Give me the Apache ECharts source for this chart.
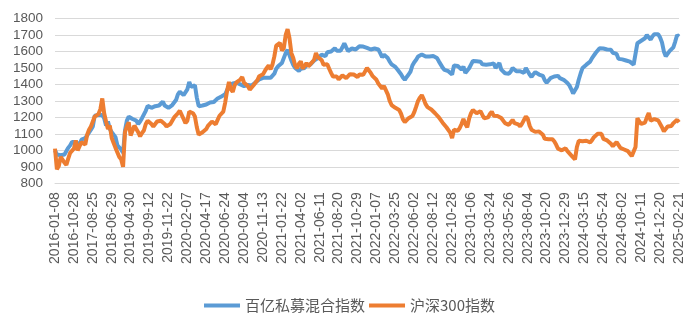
<!DOCTYPE html>
<html>
<head>
<meta charset="utf-8">
<script src="https://cdn.jsdelivr.net/npm/echarts@6/dist/echarts.min.js"></script>
<style>
html,body{margin:0;padding:0;background:#fff;}
#c{width:699px;height:328px;}
</style>
</head>
<body>
<div id="c"></div>
<script>
// Tick labels shown on the x axis (every 10th data point)
const tickLabels = [
  '2016-01-08','2016-10-28','2017-08-25','2018-06-29','2019-04-30','2019-09-12','2019-11-22',
  '2020-02-07','2020-04-17','2020-06-24','2020-09-04','2020-11-13','2021-01-22','2021-04-02',
  '2021-06-11','2021-08-20','2021-10-29','2022-01-07','2022-03-25','2022-06-02','2022-08-12',
  '2022-10-28','2023-01-06','2023-03-24','2023-05-26','2023-08-04','2023-10-20','2023-12-29',
  '2024-03-15','2024-05-24','2024-08-02','2024-10-11','2024-12-20','2025-02-21'
];

// 百亿私募混合指数
const privateIndex = [
  1000,975,980,970,975,975,980,1015,1030,1050,1055,1050,1045,1035,1065,1068,1075,1090,1100,1125,
  1145,1210,1215,1215,1205,1215,1195,1150,1175,1130,1110,1105,1080,1030,1040,1005,985,1120,1180,1205,
  1210,1190,1200,1180,1160,1175,1195,1205,1240,1270,1275,1258,1265,1268,1275,1272,1276,1295,1272,1262,
  1258,1260,1275,1290,1305,1340,1356,1348,1335,1345,1370,1415,1385,1378,1395,1320,1268,1270,1272,1275,
  1278,1282,1290,1292,1293,1305,1315,1318,1327,1335,1340,1365,1392,1400,1406,1408,1410,1402,1400,1393,
  1390,1392,1396,1394,1393,1402,1412,1420,1430,1438,1440,1442,1441,1438,1440,1445,1465,1495,1510,1520,
  1530,1540,1590,1610,1605,1545,1518,1500,1488,1482,1495,1492,1500,1518,1512,1520,1532,1545,1555,1560,
  1568,1580,1582,1572,1595,1605,1600,1610,1620,1605,1612,1605,1625,1650,1625,1602,1608,1618,1622,1612,
  1620,1632,1622,1630,1632,1622,1625,1612,1620,1618,1622,1612,1590,1565,1580,1582,1560,1538,1522,1510,
  1506,1492,1482,1462,1442,1428,1445,1460,1478,1515,1535,1550,1570,1580,1582,1578,1570,1572,1570,1566,
  1572,1575,1560,1540,1530,1502,1488,1478,1480,1470,1460,1515,1520,1512,1500,1490,1508,1470,1462,1498,
  1520,1542,1550,1540,1530,1538,1522,1510,1520,1528,1522,1515,1528,1500,1515,1530,1490,1480,1468,1475,
  1465,1478,1500,1490,1480,1490,1480,1488,1470,1500,1508,1460,1445,1462,1475,1468,1460,1455,1452,1425,
  1410,1422,1438,1440,1448,1458,1452,1438,1430,1428,1432,1408,1395,1372,1345,1335,1385,1430,1468,1500,
  1512,1520,1532,1538,1560,1572,1592,1600,1620,1615,1618,1615,1612,1620,1610,1592,1595,1585,1555,1550,
  1552,1548,1545,1540,1538,1528,1520,1585,1650,1662,1665,1672,1680,1700,1685,1672,1692,1705,1712,1705,
  1685,1655,1600,1570,1575,1602,1605,1625,1660,1700,1690
];

// 沪深300指数
const csi300Index = [
  1010,885,905,960,950,925,912,950,985,975,1010,1060,1000,1025,1050,1045,1035,1095,1125,1145,
  1175,1205,1215,1220,1250,1315,1225,1175,1130,1150,1075,1045,1015,1010,960,945,900,1110,1145,1170,
  1090,1085,1150,1130,1110,1085,1105,1120,1160,1180,1185,1160,1145,1160,1175,1165,1180,1185,1160,1145,
  1148,1160,1180,1200,1210,1225,1240,1232,1190,1165,1180,1235,1240,1225,1205,1140,1095,1105,1110,1118,
  1130,1150,1150,1175,1180,1158,1185,1210,1222,1235,1290,1360,1415,1370,1355,1395,1412,1405,1430,1445,
  1410,1398,1390,1368,1372,1395,1410,1425,1450,1440,1462,1482,1500,1515,1492,1520,1570,1635,1642,1652,
  1605,1620,1700,1735,1680,1590,1560,1515,1498,1525,1540,1495,1500,1530,1510,1520,1535,1548,1590,1565,
  1560,1548,1520,1518,1522,1495,1470,1448,1455,1448,1430,1440,1455,1445,1438,1450,1462,1470,1460,1450,
  1445,1460,1450,1458,1465,1500,1485,1470,1450,1445,1428,1405,1390,1375,1390,1378,1340,1300,1275,1272,
  1258,1265,1245,1222,1188,1172,1178,1195,1200,1208,1232,1265,1300,1320,1335,1310,1280,1262,1250,1248,
  1240,1225,1215,1200,1188,1168,1162,1140,1130,1108,1075,1125,1122,1118,1135,1160,1190,1160,1140,1192,
  1225,1245,1236,1225,1218,1238,1215,1195,1205,1200,1220,1235,1210,1205,1208,1202,1196,1185,1165,1158,
  1155,1162,1185,1165,1155,1158,1145,1162,1165,1205,1192,1150,1125,1128,1112,1122,1115,1105,1095,1070,
  1058,1068,1075,1068,1055,1035,1010,1003,1000,998,1012,995,983,970,975,945,1020,1058,1062,1055,
  1066,1058,1062,1048,1062,1080,1090,1100,1090,1100,1070,1062,1060,1048,1040,1025,1032,1050,1040,1015,
  1005,1005,998,995,985,965,972,1020,1195,1175,1160,1172,1168,1200,1226,1180,1178,1190,1180,1182,
  1175,1140,1115,1122,1145,1140,1148,1165,1170,1185,1170
];

const seriesNames = ['百亿私募混合指数', '沪深300指数'];
const seriesColors = ['#5B9BD5', '#ED7D31'];

// Category axis: every 10th point carries a tick label; others get hidden unique keys
const categories = privateIndex.map((_, i) => {
  const k = Math.floor(i / 10);
  return i % 10 === 0 ? tickLabels[k] : tickLabels[k] + ' +' + (i % 10);
});

const chart = echarts.init(document.getElementById('c'), null, {renderer: 'canvas'});
chart.setOption({
  animation: false,
  backgroundColor: '#ffffff',
  textStyle: {fontFamily: "'Liberation Sans', 'Noto Sans CJK SC', sans-serif"},
  grid: {left: 55, right: 20, top: 18.5, bottom: 144.7, containLabel: false},
  legend: {
    data: seriesNames.map(n => ({name: n, icon: 'rect'})),
    left: 'center',
    top: 293,
    itemWidth: 36,
    itemHeight: 4,
    itemGap: 4,
    textStyle: {fontSize: 15, color: '#595959', fontFamily: "'Noto Sans CJK SC', sans-serif"}
  },
  xAxis: {
    type: 'category',
    boundaryGap: false,
    data: categories,
    axisLine: {lineStyle: {color: '#d9d9d9', width: 1}},
    axisTick: {show: false},
    axisLabel: {interval: 9, rotate: 90, fontSize: 14, color: '#595959', margin: 9}
  },
  yAxis: {
    type: 'value',
    min: 800,
    max: 1800,
    interval: 100,
    axisLine: {show: false},
    axisTick: {show: false},
    axisLabel: {fontSize: 13.5, color: '#595959', margin: 12, formatter: v => String(v)},
    splitLine: {lineStyle: {color: '#d9d9d9', width: 1}}
  },
  series: [
    {
      name: seriesNames[0], type: 'line', data: privateIndex, symbol: 'none',
      lineStyle: {width: 4, color: seriesColors[0]}, itemStyle: {color: seriesColors[0]}
    },
    {
      name: seriesNames[1], type: 'line', data: csi300Index, symbol: 'none',
      lineStyle: {width: 4, color: seriesColors[1]}, itemStyle: {color: seriesColors[1]}
    }
  ]
});
</script>
</body>
</html>
